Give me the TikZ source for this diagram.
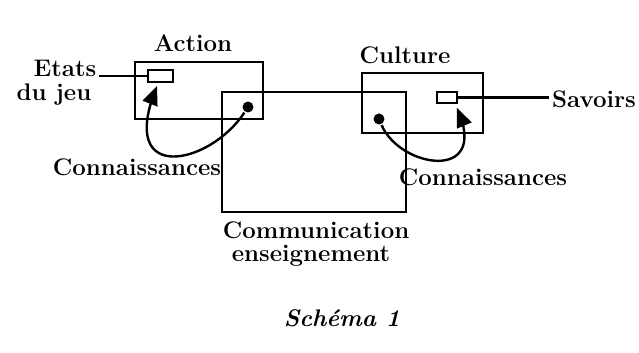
\documentclass[tikz,border=0pt]{standalone}
\usepackage{tikz}
\usetikzlibrary{arrows, calc, positioning}

\tikzset{
	boite/.style={draw, line width=1.2pt, inner sep=0pt},
	lab/.style={font=\fontsize{12}{14}\selectfont\bfseries, inner sep=1pt},
	point/.style={circle, fill, inner sep=0pt, minimum size=5.5pt},
}

\begin{document}
\begin{tikzpicture}[>=triangle 45, x=0.5pt, y=-0.5pt, line width=1.2pt]
	\useasboundingbox (0,0) rectangle (639,353);
	% les trois boites
	\node[boite, minimum width=64pt, minimum height=28.5pt] (action) at (199,90.5) {};
	\node[boite, minimum width=92pt, minimum height=60pt] (comm) at (314,152) {};
	\node[boite, minimum width=60.5pt, minimum height=30pt] (culture) at (422.5,103) {};
	\node[lab] (actionlab) at (193,43) {Action};
	\node[lab] (culturelab) at (405,55) {Culture};
	\node[lab] (communic) at (316,230) {Communication};
	\node[lab] (enseign) at (311,256) {enseignement};
	% etats du jeu
	\node[boite, minimum width=12.5pt, minimum height=6pt] (etatsbox) at (160.5,76) {};
	\node[lab] (etats) at (65,68) {Etats};
	\node[lab] (dujeu) at (54,95) {du jeu};
	\draw (etatsbox.west -| etats.east) -- (etatsbox.west);
	\node[point] (dotaction) at (248,107) {};
	\draw[->] (dotaction) .. controls (210,165) and (118,185) .. (157,86);
	\node[lab] (connA) at (137,167) {Connaissances};
	% savoirs
	\node[boite, minimum width=10pt, minimum height=5.5pt] (savoirbox) at (447,97.5) {};
	\node[lab] (savoirs) at (594,99) {Savoirs};
	\draw (savoirbox.east) -- (savoirbox.east -| savoirs.west);
	\node[point] (dotculture) at (379,119) {};
	\draw[->] (dotculture) .. controls (400,168) and (488,182) .. (457,108);
	\node[lab] (connC) at (483,177) {Connaissances};
	\node[font=\fontsize{12}{14}\selectfont\bfseries\itshape] (schema) at (342,318) {Schéma 1};
\end{tikzpicture}
\end{document}
